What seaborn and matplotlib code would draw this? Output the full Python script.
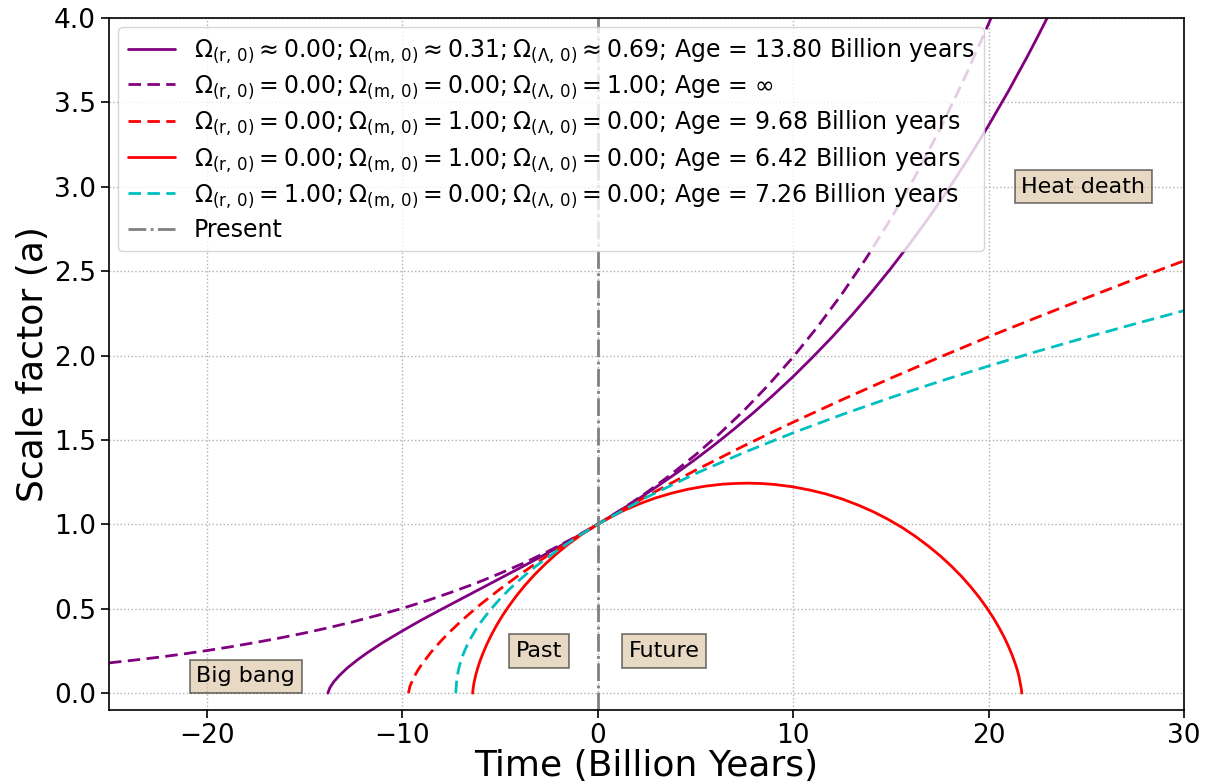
import matplotlib
matplotlib.use("Agg")
import matplotlib.pyplot as plt
import seaborn as sns
import pandas as pd

# ---- data (time in Gyr relative to present, scale factor a) ----
lcdm_t = [-13.80, -13.70, -13.50, -13.20, -12.80, -12.30, -11.80, -11.00, -10.00, -9.00,
          -8.00, -7.00, -6.00, -5.00, -4.00, -3.00, -2.00, -1.00, 0.00, 1.00, 2.00, 3.00,
          4.00, 5.00, 6.00, 7.00, 8.00, 9.00, 10.00, 11.00, 12.00, 13.00, 14.00, 15.00,
          16.00, 17.00, 18.00, 19.00, 20.00, 21.00, 22.00, 22.50, 23.00]
lcdm_a = [0.000, 0.032, 0.067, 0.106, 0.150, 0.196, 0.238, 0.299, 0.368, 0.434,
          0.496, 0.557, 0.618, 0.679, 0.740, 0.802, 0.866, 0.932, 1.000, 1.071, 1.144, 1.221,
          1.301, 1.385, 1.473, 1.566, 1.664, 1.767, 1.875, 1.990, 2.110, 2.238, 2.373, 2.516,
          2.667, 2.826, 2.995, 3.174, 3.363, 3.563, 3.775, 3.886, 4.000]

desitter_t = [-25.0, -23.75, -22.5, -21.25, -20.0, -18.75, -17.5, -16.25, -15.0, -13.75,
              -12.5, -11.25, -10.0, -8.75, -7.5, -6.25, -5.0, -3.75, -2.5, -1.25, 0.0,
              1.25, 2.5, 3.75, 5.0, 6.25, 7.5, 8.75, 10.0, 11.25, 12.5, 13.75, 15.0, 16.25,
              17.5, 18.75, 20.0, 20.13]
desitter_a = [0.179, 0.195, 0.212, 0.231, 0.252, 0.275, 0.300, 0.327, 0.356, 0.388,
              0.423, 0.461, 0.502, 0.547, 0.597, 0.650, 0.709, 0.772, 0.842, 0.918, 1.000,
              1.090, 1.188, 1.295, 1.411, 1.538, 1.676, 1.827, 1.991, 2.170, 2.365, 2.578,
              2.810, 3.062, 3.338, 3.638, 3.965, 4.000]

eds_t = [-9.68, -9.60, -9.40, -9.20, -9.00, -8.50, -8.00, -7.50, -7.00, -6.50, -6.00, -5.00,
         -4.00, -3.00, -2.00, -1.00, 0.00, 2.50, 5.00, 7.50, 10.00, 12.50, 15.00, 17.50,
         20.00, 22.50, 25.00, 27.50, 30.00]
eds_a = [0.000, 0.041, 0.094, 0.135, 0.170, 0.246, 0.311, 0.370, 0.425, 0.476, 0.525, 0.616,
         0.701, 0.781, 0.857, 0.930, 1.000, 1.166, 1.320, 1.466, 1.605, 1.738, 1.866, 1.990,
         2.111, 2.227, 2.341, 2.453, 2.561]

closed_t = [-6.391, -6.388, -6.371, -6.324, -6.233, -6.142, -6.022, -5.869, -5.682, -5.458,
            -5.193, -4.887, -4.538, -4.145, -3.707, -3.225, -2.698, -2.128, -1.516, -0.863,
            0.000, 0.557, 1.318, 2.109, 2.927, 3.768, 4.628, 5.503, 6.388, 7.012, 7.652,
            8.353, 9.065, 9.949, 10.822, 11.679, 12.516, 13.330, 14.116, 14.872, 15.594,
            16.279, 16.925, 17.531, 18.094, 18.613, 19.088, 19.518, 19.904, 20.245, 20.544,
            20.802, 21.020, 21.201, 21.348, 21.463, 21.550, 21.625, 21.678, 21.692, 21.695]
closed_a = [0.000, 0.007, 0.028, 0.062, 0.109, 0.146, 0.189, 0.235, 0.286, 0.340,
            0.397, 0.456, 0.516, 0.578, 0.640, 0.702, 0.763, 0.823, 0.881, 0.936,
            1.000, 1.036, 1.081, 1.120, 1.155, 1.184, 1.208, 1.226, 1.238, 1.242, 1.244,
            1.242, 1.236, 1.223, 1.204, 1.180, 1.150, 1.114, 1.074, 1.029, 0.980,
            0.927, 0.871, 0.813, 0.753, 0.692, 0.630, 0.568, 0.506, 0.446, 0.387,
            0.331, 0.277, 0.227, 0.181, 0.140, 0.103, 0.057, 0.025, 0.007, 0.000]

rad_t = [-7.26, -7.20, -7.10, -7.00, -6.90, -6.80, -6.65, -6.50, -6.25, -6.00, -5.50, -5.00,
         -4.50, -4.00, -3.50, -3.00, -2.00, -1.00, 0.00, 2.50, 5.00, 7.50, 10.00, 12.50,
         15.00, 17.50, 20.00, 22.50, 25.00, 27.50, 30.00]
rad_a = [0.000, 0.091, 0.149, 0.189, 0.223, 0.252, 0.290, 0.324, 0.373, 0.417, 0.492, 0.558,
         0.617, 0.670, 0.720, 0.766, 0.851, 0.929, 1.000, 1.160, 1.300, 1.426, 1.542, 1.650,
         1.751, 1.847, 1.938, 2.025, 2.108, 2.188, 2.266]

labels = [
    r"$\Omega_{(\mathrm{r},\,0)} \approx 0.00; \Omega_{(\mathrm{m},\,0)} \approx 0.31; \Omega_{(\Lambda,\,0)} \approx 0.69$; Age = 13.80 Billion years",
    r"$\Omega_{(\mathrm{r},\,0)} = 0.00; \Omega_{(\mathrm{m},\,0)} = 0.00; \Omega_{(\Lambda,\,0)} = 1.00$; Age = $\infty$",
    r"$\Omega_{(\mathrm{r},\,0)} = 0.00; \Omega_{(\mathrm{m},\,0)} = 1.00; \Omega_{(\Lambda,\,0)} = 0.00$; Age = 9.68 Billion years",
    r"$\Omega_{(\mathrm{r},\,0)} = 0.00; \Omega_{(\mathrm{m},\,0)} = 1.00; \Omega_{(\Lambda,\,0)} = 0.00$; Age = 6.42 Billion years",
    r"$\Omega_{(\mathrm{r},\,0)} = 1.00; \Omega_{(\mathrm{m},\,0)} = 0.00; \Omega_{(\Lambda,\,0)} = 0.00$; Age = 7.26 Billion years",
]
annotations = [("Big bang", -18.0, 0.10), ("Past", -3.0, 0.25), ("Future", 3.4, 0.25),
               ("Heat death", 24.85, 3.0)]

sns.set_style("ticks")
plt.rcParams["font.family"] = ["DejaVu Sans"]
plt.rcParams["mathtext.fontset"] = "dejavusans"
for k in ["text.color", "axes.labelcolor", "xtick.color", "ytick.color"]:
    plt.rcParams[k] = "black"

fig = plt.figure(figsize=(12.11, 7.81), dpi=100)
ax = fig.add_axes([0.090, 0.0909, 0.8877, 0.8861])

dash = (0, (4.5, 2.3))
series = [
    (lcdm_t, lcdm_a, "purple", "-"),
    (desitter_t, desitter_a, "purple", dash),
    (eds_t, eds_a, "red", dash),
    (closed_t, closed_a, "red", "-"),
    (rad_t, rad_a, "c", dash),
]
for (t, a, c, ls), lab in zip(series, labels):
    df = pd.DataFrame({"t": t, "a": a})
    sns.lineplot(data=df, x="t", y="a", ax=ax, color=c, linestyle=ls, linewidth=2,
                 label=lab, sort=False, estimator=None)

ax.axvline(0, color="gray", linestyle="-.", linewidth=2, label="Present")

for txt, x, y in annotations:
    ax.text(x, y, txt, fontsize=16, ha="center", va="center", color="black",
            bbox=dict(boxstyle="square", facecolor="tan", edgecolor="black",
                      linewidth=1.3, alpha=0.5))

ax.set_xlim(-25, 30)
ax.set_ylim(-0.1, 4.0)
ax.set_xticks([-20, -10, 0, 10, 20, 30])
ax.set_yticks([0.0, 0.5, 1.0, 1.5, 2.0, 2.5, 3.0, 3.5, 4.0])
ax.yaxis.set_major_formatter(matplotlib.ticker.FormatStrFormatter("%.1f"))
ax.grid(True, linestyle=":", color="#b0b0b0", linewidth=1)
ax.tick_params(axis="both", labelsize=19, direction="out", length=6, width=1.2,
               colors="black")
for s in ax.spines.values():
    s.set_visible(True)
    s.set_color("black")
    s.set_linewidth(1.2)

ax.set_xlabel("Time (Billion Years)", fontsize=26, labelpad=0)
ax.set_ylabel("Scale factor (a)", fontsize=26, labelpad=3)

ax.legend(loc="upper left", fontsize=17, framealpha=0.8, handlelength=2.0,
          labelspacing=0.34, borderaxespad=0.4)

fig.savefig("out.png", dpi=100)
